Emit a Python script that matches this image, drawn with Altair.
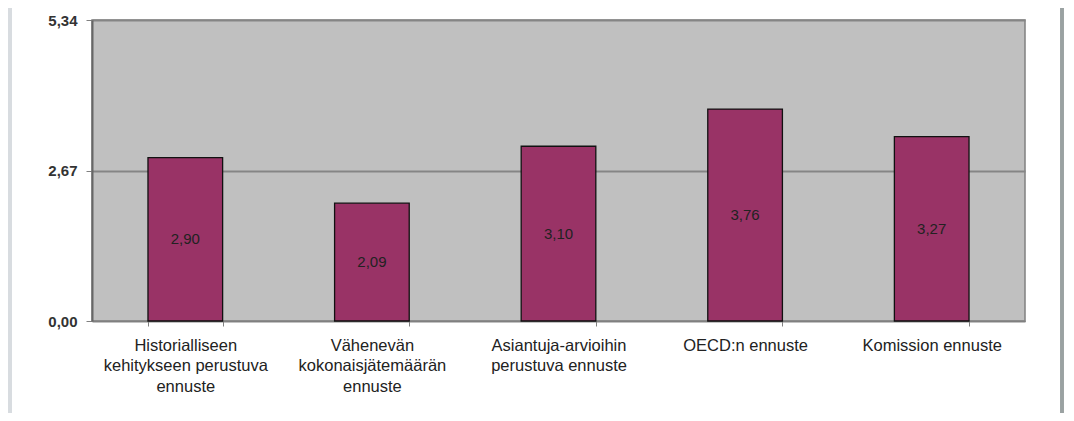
import altair as alt
import pandas as pd

categories = [
    "Historialliseen|kehitykseen perustuva|ennuste",
    "Vähenevän|kokonaisjätemäärän|ennuste",
    "Asiantuja-arvioihin|perustuva ennuste",
    "OECD:n ennuste",
    "Komission ennuste",
]
values = [2.90, 2.09, 3.10, 3.76, 3.27]
y_ticks = [0.0, 2.67, 5.34]

df = pd.DataFrame({"cat": categories, "val": values})
df["lab"] = [f"{v:.2f}".replace(".", ",") for v in values]

x_enc = alt.X(
    "cat:N",
    sort=categories,
    title=None,
    scale=alt.Scale(paddingInner=0.6, paddingOuter=0.3),
    axis=alt.Axis(
        labelExpr="split(datum.label, '|')",
        labelAngle=0,
        labelFont="Liberation Sans",
        labelFontSize=16.5,
        labelColor="#222222",
        labelLineHeight=20.5,
        labelPadding=11,
        tickBand="extent",
        tickSize=5,
        tickColor="#808080",
        domainColor="#808080",
        grid=False,
        labelBaseline="top",
    ),
)

y_enc = alt.Y(
    "val:Q",
    title=None,
    scale=alt.Scale(domain=[0, 5.34], nice=False, zero=True),
    axis=alt.Axis(
        values=y_ticks,
        labelExpr="replace(format(datum.value, '.2f'), '.', ',')",
        labelFont="Liberation Sans",
        labelFontSize=15,
        labelFontWeight="bold",
        labelColor="#333333",
        labelPadding=9,
        tickSize=6,
        tickColor="#808080",
        domainColor="#666666",
        domainWidth=2,
        grid=True,
        gridColor="#858585",
        gridWidth=2,
    ),
)

bars = alt.Chart(df).mark_bar(
    color="#993366", stroke="#111111", strokeWidth=1.3
).encode(x=x_enc, y=y_enc)

labels = alt.Chart(df).transform_calculate(
    mid="datum.val / 2"
).mark_text(
    font="Liberation Sans", fontSize=15, color="#222222", baseline="middle"
).encode(
    x=alt.X("cat:N", sort=categories),
    y=alt.Y("mid:Q"),
    text="lab:N",
)

right_frame = alt.Chart(df).mark_rule(color="#9aa2a2", strokeWidth=3).encode(
    x=alt.value(970), y=alt.value(-25), y2=alt.value(420)
)
left_frame = alt.Chart(df).mark_rule(color="#d8dce0", strokeWidth=4).encode(
    x=alt.value(-82), y=alt.value(-25), y2=alt.value(420)
)

chart = (
    alt.layer(bars, labels, right_frame, left_frame)
    .properties(
        width=933,
        height=301,
        autosize=alt.AutoSizeParams(type="none"),
        padding={"left": 84, "top": 12, "right": 40, "bottom": 92},
        background="white",
    )
    .configure_view(fill="#C0C0C0", stroke="#808080", strokeWidth=1.5)
)

chart.save("out.html", embed_options={"renderer": "svg", "actions": False})
